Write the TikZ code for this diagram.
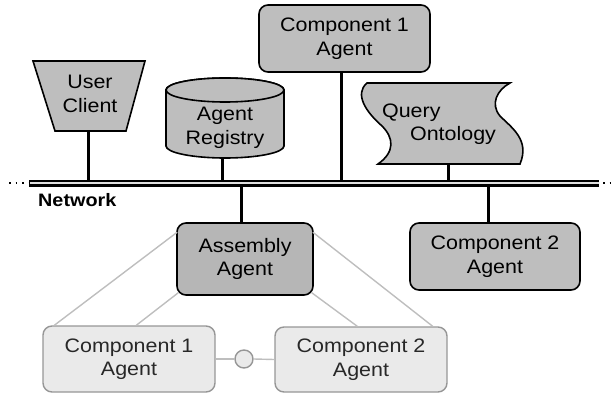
\documentclass[tikz,border=0pt]{standalone}
\usepackage{fontspec}
\setmainfont{Liberation Sans}[FakeStretch=1.1]
\usetikzlibrary{calc}
\definecolor{fillA}{RGB}{190,190,190}
\definecolor{fillB}{RGB}{182,182,182}
\definecolor{fillL}{RGB}{234,234,234}
\definecolor{borderL}{RGB}{150,150,150}
\definecolor{textL}{RGB}{40,40,40}
\definecolor{lineL}{RGB}{190,190,190}
\begin{document}
\begin{tikzpicture}[x=1pt,y=-1pt,
  txt/.style={font=\fontsize{19.5}{23.5}\selectfont, align=center, inner sep=0pt},
  darkbox/.style={txt, draw=black, line width=1.6pt, fill=fillA, rounded corners=9pt},
  lightbox/.style={txt, draw=borderL, line width=1.4pt, fill=fillL, rounded corners=9pt, text=textL},
  shapeline/.style={draw=black, line width=1.6pt, fill=fillA},
  stem/.style={draw=black, line width=3pt},
  greyline/.style={draw=lineL, line width=1.4pt}]
\useasboundingbox (0,0) rectangle (614,396);

% bus coordinates
\coordinate (busL) at (29,183);
\coordinate (busR) at (599,183);

% User Client (trapezoid)
\path[shapeline] (33,61) -- (145,61) -- (126,131) -- (55,131) -- cycle;
\node[txt] (uc) at (90,94) {User\\Client};
\coordinate (ucb) at (88,131);

% Agent Registry (cylinder)
\path[shapeline] (166,90) -- (166,146) arc[start angle=180,end angle=0,x radius=59,y radius=12]
  -- (284,90) arc[start angle=0,end angle=-180,x radius=59,y radius=12] -- cycle;
\path[shapeline] (225,90) ellipse[x radius=59,y radius=12];
\node[txt] (ar) at (225,128) {Agent\\Registry};
\coordinate (arb) at (222,158);

% Component 1 Agent (top)
\node[darkbox, minimum width=171pt, minimum height=67pt] (c1t) at (344.5,38.5) {Component 1\\Agent};

% Query Ontology (tape shape)
\path[shapeline] (367,83) -- (510,83)
  .. controls (497,90) and (490,104) .. (500,116)
  .. controls (512,128) and (530,140) .. (520,164)
  -- (378,164)
  .. controls (395,152) and (394,138) .. (382,126)
  .. controls (366,112) and (354,94) .. (367,83) -- cycle;
\node[txt, align=left] (qo) at (439,124) {Query\\\hspace*{28pt}Ontology};
\coordinate (qob) at (448,164);

% stems to bus
\draw[stem] (ucb) -- (ucb |- busL);
\draw[stem] (arb) -- (arb |- busL);
\draw[stem] ([xshift=-3.5pt]c1t.south) -- ([xshift=-3.5pt]c1t.south |- busL);
\draw[stem] (qob) -- (qob |- busL);

% Assembly Agent and Component 2 Agent (below bus)
\node[darkbox, fill=fillB, minimum width=136pt, minimum height=72pt] (asm) at (245,259) {Assembly\\Agent};
\node[darkbox, minimum width=170pt, minimum height=67pt] (c2r) at (495,256.5) {Component 2\\Agent};
\draw[stem] ([xshift=-4pt]asm.north) -- ([xshift=-4pt]asm.north |- busL);
\draw[stem] ([xshift=-7pt]c2r.north) -- ([xshift=-7pt]c2r.north |- busL);

% bus
\draw[line width=7pt] (busL) -- (busR);
\draw[white!75!gray, line width=1.5pt] (busL) -- (busR);
\draw[line width=1.3pt, dash pattern=on 1.5pt off 5pt] (9,183) -- (busL);
\draw[line width=1.3pt, dash pattern=on 1.5pt off 5pt] ([xshift=4pt]busR) -- (614,183);
\node[anchor=base west, inner sep=0pt, font=\fontsize{18}{21}\selectfont\bfseries] (net) at (38,206) {Network};

% Lower components
\node[lightbox, minimum width=172pt, minimum height=66pt] (c1b) at (129,359) {Component 1\\Agent};
\node[lightbox, minimum width=172pt, minimum height=65pt] (c2b) at (361,359.5) {Component 2\\Agent};
\draw[greyline] ($(asm.north west)+(1,10)$) -- ($(c1b.north west)+(12,0)$);
\draw[greyline] ($(asm.south west)+(2,-3)$) -- ($(c1b.north west)+(94,0)$);
\draw[greyline] ($(asm.north east)+(-1,10)$) -- ($(c2b.north east)+(-15,0)$);
\draw[greyline] ($(asm.south east)+(-2,-3)$) -- ($(c2b.north west)+(83,0)$);
\node[circle, draw=borderL, line width=1.4pt, fill=fillL, minimum size=18pt, inner sep=0pt] (iface) at (244,359) {};
\draw[greyline] (c1b.east) -- (iface.west);
\draw[greyline] (iface.east) -- (c2b.west);
\end{tikzpicture}
\end{document}
